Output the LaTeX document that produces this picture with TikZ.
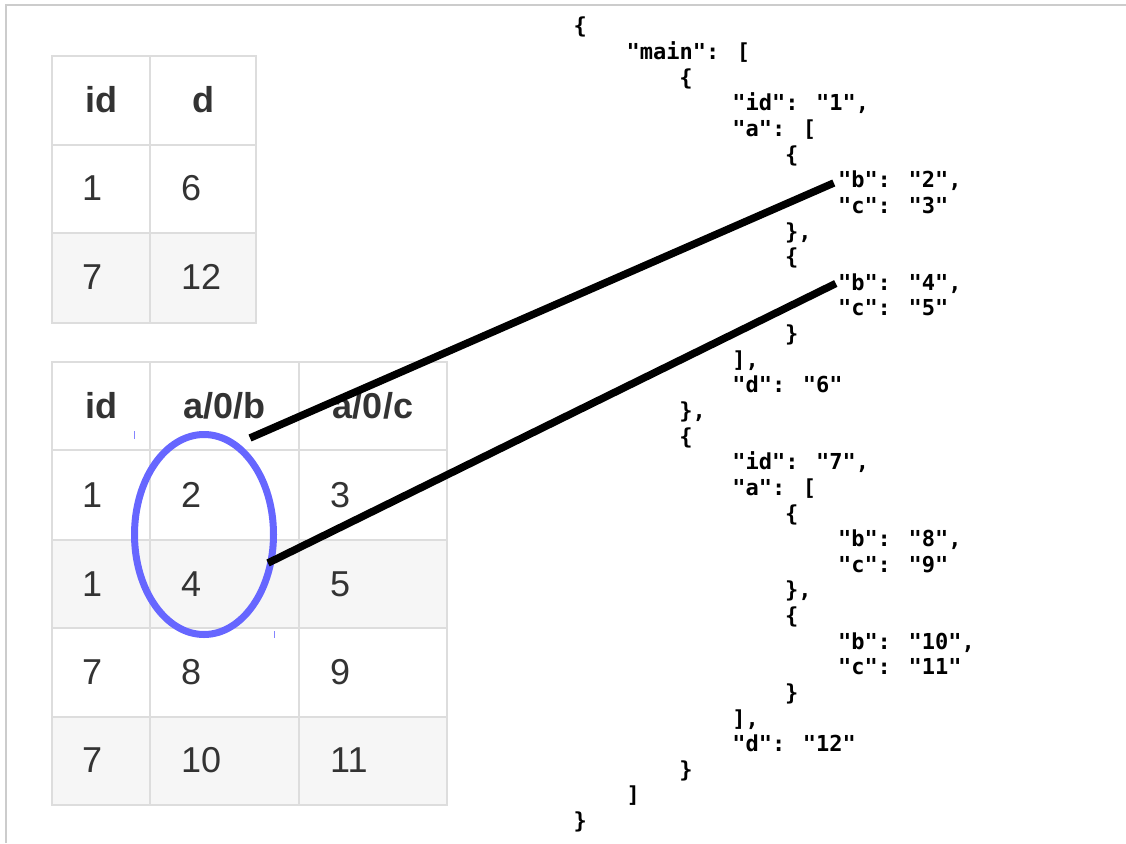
\documentclass[tikz,border=0pt]{standalone}
\usepackage{fontspec}
\usepackage{tikz}
\setmainfont{Liberation Sans}
\newfontfamily\jsonfont{DejaVu Sans Mono}
\usetikzlibrary{shapes.geometric}
\definecolor{cellline}{RGB}{221,221,221}
\definecolor{rowgray}{RGB}{246,246,246}
\definecolor{celltext}{RGB}{51,51,51}
\definecolor{selblue}{RGB}{102,102,255}
\definecolor{framegray}{RGB}{204,204,204}

\begin{document}
\begin{tikzpicture}[x=1pt,y=-1pt,
    cell/.style={draw=cellline,line width=2.5pt},
    head/.style={anchor=base,inner sep=0pt,text=celltext,font=\fontsize{36}{40}\selectfont\bfseries},
    entry/.style={anchor=base west,inner sep=0pt,text=celltext,font=\fontsize{36}{40}\selectfont},
    json/.style={anchor=base west,inner sep=0pt,font=\jsonfont\bfseries\fontsize{22}{26}\selectfont},
    link/.style={line width=7.5pt,black}]
    \useasboundingbox (0,0) rectangle (1126,843);

    % Frame
    \draw[framegray,line width=1.5pt] (6,843) -- (6,5) -- (1126,5);

    % Table id/d
    \fill[rowgray] (52,233) rectangle (256,323);
    \draw[cell] (52,56) rectangle (256,323);
    \draw[cell] (150,56) -- (150,323);
    \draw[cell] (52,145) -- (256,145) (52,233) -- (256,233);
    \node[head] (th1) at (101,112) {id};
    \node[head] (th2) at (203,112) {d};
    \node[entry] (ta1) at (82,200) {1};
    \node[entry] (ta2) at (181,200) {6};
    \node[entry] (tb1) at (82,289) {7};
    \node[entry] (tb2) at (181,289) {12};

    % Table id/a/0/b/a/0/c
    \fill[rowgray] (52,540) rectangle (447,628);
    \fill[rowgray] (52,717) rectangle (447,805);
    \draw[cell] (52,362) rectangle (447,805);
    \draw[cell] (150,362) -- (150,805) (299,362) -- (299,805);
    \draw[cell] (52,450) -- (447,450) (52,540) -- (447,540)
        (52,628) -- (447,628) (52,717) -- (447,717);
    \node[head] (bh1) at (101,418) {id};
    \node[head] (bh2) at (224.5,418) {a/0/b};
    \node[head] (bh3) at (373,418) {a/0/c};
    \node[entry] (ba1) at (82,507) {1};
    \node[entry] (ba2) at (181,507) {2};
    \node[entry] (ba3) at (330,507) {3};
    \node[entry] (bb1) at (82,596) {1};
    \node[entry] (bb2) at (181,596) {4};
    \node[entry] (bb3) at (330,596) {5};
    \node[entry] (bc1) at (82,684) {7};
    \node[entry] (bc2) at (181,684) {8};
    \node[entry] (bc3) at (330,684) {9};
    \node[entry] (bd1) at (82,772) {7};
    \node[entry] (bd2) at (181,772) {10};
    \node[entry] (bd3) at (330,772) {11};

    % Selection
    \node[ellipse,draw=selblue,line width=7pt,minimum width=139pt,minimum height=200pt,inner sep=0pt] (sel) at (204,534.5) {};
    \draw[selblue!80,line width=1pt] (134,431) -- (134,439);
    \draw[selblue!80,line width=1pt] (274,631) -- (274,638);

    % JSON
    \node[json] (j1) at (573.5,34) {\{};
    \node[json] (j2) at (626.4,59.6) {"main": [};
    \node[json] (j3) at (679.2,85.3) {\{};
    \node[json] (j4) at (732.1,110.9) {"id": "1",};
    \node[json] (j5) at (732.1,136.5) {"a": [};
    \node[json] (j6) at (784.9,162.2) {\{};
    \node[json] (j7) at (837.8,187.8) {"b": "2",};
    \node[json] (j8) at (837.8,213.4) {"c": "3"};
    \node[json] (j9) at (784.9,239) {\},};
    \node[json] (j10) at (784.9,264.7) {\{};
    \node[json] (j11) at (837.8,290.3) {"b": "4",};
    \node[json] (j12) at (837.8,315.9) {"c": "5"};
    \node[json] (j13) at (784.9,341.6) {\}};
    \node[json] (j14) at (732.1,367.2) {],};
    \node[json] (j15) at (732.1,392.8) {"d": "6"};
    \node[json] (j16) at (679.2,418.5) {\},};
    \node[json] (j17) at (679.2,444.1) {\{};
    \node[json] (j18) at (732.1,469.7) {"id": "7",};
    \node[json] (j19) at (732.1,495.3) {"a": [};
    \node[json] (j20) at (784.9,521) {\{};
    \node[json] (j21) at (837.8,546.6) {"b": "8",};
    \node[json] (j22) at (837.8,572.2) {"c": "9"};
    \node[json] (j23) at (784.9,597.9) {\},};
    \node[json] (j24) at (784.9,623.5) {\{};
    \node[json] (j25) at (837.8,649.1) {"b": "10",};
    \node[json] (j26) at (837.8,674.8) {"c": "11"};
    \node[json] (j27) at (784.9,700.4) {\}};
    \node[json] (j28) at (732.1,726) {],};
    \node[json] (j29) at (732.1,751.6) {"d": "12"};
    \node[json] (j30) at (679.2,777.3) {\}};
    \node[json] (j31) at (626.4,802.9) {]};
    \node[json] (j32) at (573.5,828.5) {\}};

    % Links
    \coordinate (s1) at (250,438);
    \coordinate (s2) at (268,563);
    \draw[link] (s1) -- ([xshift=-4pt,yshift=-2pt]j7.west);
    \draw[link] (s2) -- ([xshift=-2pt]j11.west);
\end{tikzpicture}
\end{document}
